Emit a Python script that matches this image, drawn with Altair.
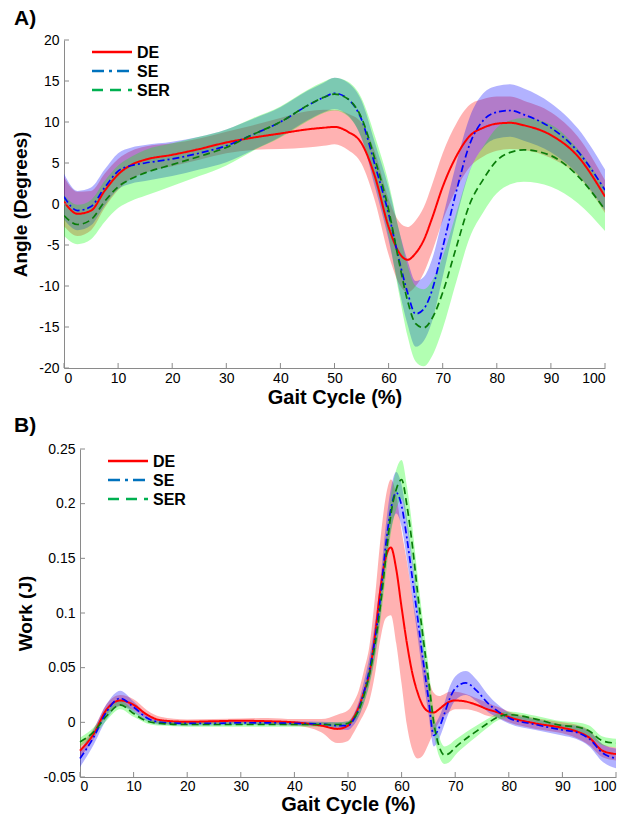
import altair as alt
import pandas as pd

# ---------------- Panel A: joint angle ----------------
GAIT_A = [0, 2.5, 5, 7.5, 10, 12.5, 15, 20, 25, 30, 35, 40, 45, 48, 50, 52.5, 55, 57.5, 60, 62,
          63.5, 65, 66.5, 68, 70, 72.5, 75, 77.5, 80, 82.5, 85, 90, 95, 100]
DE_A_MEAN = [0.3, -1.2, -0.8, 1.6, 3.6, 4.8, 5.4, 6.0, 6.7, 7.5, 8.1, 8.6, 9.1, 9.3, 9.4, 8.8, 7.4, 3.3, -2.8, -6.0,
             -6.8, -6.0, -4.4, -1.8, 2.1, 5.8, 8.3, 9.3, 9.8, 9.9, 9.6, 8.4, 5.8, 0.9]
DE_A_SD = [3.0, 2.7, 2.4, 2.1, 1.9, 1.7, 1.6, 1.4, 1.3, 1.3, 1.5, 1.9, 2.2, 2.2, 2.1, 2.2, 2.5, 3.0, 3.4, 3.8,
           4.0, 4.0, 4.0, 4.1, 4.1, 4.0, 3.8, 3.5, 3.3, 3.2, 3.0, 2.8, 2.4, 2.0]
SE_A_MEAN = [0.9, -0.8, -0.3, 2.0, 4.0, 4.7, 5.0, 5.5, 6.2, 7.1, 8.5, 10.0, 12.0, 13.0, 13.5, 12.8, 10.3, 4.7, -1.2, -7.0,
             -10.8, -13.4, -12.8, -10.6, -5.3, 1.5, 7.3, 10.2, 11.2, 11.4, 10.9, 9.3, 6.4, 1.7]
SE_A_SD = [2.8, 2.4, 2.3, 2.2, 2.2, 2.2, 2.2, 2.1, 2.0, 2.0, 1.9, 1.8, 1.8, 1.8, 1.9, 2.0, 2.3, 2.7, 3.2, 3.6,
           3.9, 4.0, 3.9, 3.8, 3.6, 3.4, 3.3, 3.3, 3.2, 3.2, 3.2, 3.0, 2.8, 2.5]
SER_A_MEAN = [-1.4, -2.5, -1.9, 0.3, 2.1, 3.1, 3.8, 4.8, 5.8, 6.9, 8.5, 10.0, 12.0, 13.0, 13.4, 12.8, 10.5, 5.4, -0.7, -7.3,
              -11.8, -14.6, -15.1, -14.0, -10.8, -5.3, 0.0, 3.0, 5.3, 6.3, 6.6, 5.9, 3.4, -0.7]
SER_A_SD = [2.5, 2.4, 2.4, 2.5, 2.6, 2.7, 2.8, 2.6, 2.4, 2.2, 2.0, 1.9, 1.9, 1.9, 2.0, 2.1, 2.4, 2.8, 3.3, 3.9,
            4.3, 4.6, 4.7, 4.6, 4.4, 4.2, 4.1, 4.0, 4.0, 3.9, 3.9, 3.8, 3.3, 2.6]

# ---------------- Panel B: work ----------------
GAIT_B = [0, 2.5, 5, 7.5, 10, 12.5, 15, 20, 25, 30, 35, 40, 45, 48, 50, 51, 52, 53, 54, 55,
          56, 57, 58, 59, 60, 61, 62, 63, 64, 65, 66, 67, 68, 69, 70, 72, 74, 76, 78, 80,
          85, 90, 92.5, 95, 97.5, 100]
DE_B_MEAN = [-0.026, -0.011, 0.012, 0.020, 0.016, 0.007, 0.002, 0.0005, 0.001, 0.0015,
             0.001, 0.0, -0.003, -0.006, -0.003, 0.004, 0.014, 0.028, 0.045, 0.078,
             0.120, 0.150, 0.160, 0.140, 0.105, 0.072, 0.045, 0.027, 0.015, 0.010,
             0.009, 0.012, 0.016, 0.019, 0.020, 0.019, 0.016, 0.012, 0.009, 0.005,
             -0.001, -0.005, -0.008, -0.014, -0.026, -0.029]
DE_B_SD = [0.006, 0.005, 0.005, 0.005, 0.005, 0.004, 0.003, 0.002, 0.002, 0.002,
           0.003, 0.003, 0.006, 0.013, 0.014, 0.014, 0.015, 0.020, 0.025, 0.035,
           0.045, 0.055, 0.062, 0.068, 0.070, 0.075, 0.070, 0.060, 0.045, 0.030,
           0.018, 0.012, 0.010, 0.009, 0.008, 0.007, 0.006, 0.006, 0.005, 0.005,
           0.005, 0.005, 0.006, 0.007, 0.006, 0.006]
SE_B_MEAN = [-0.033, -0.014, 0.010, 0.022, 0.014, 0.004, 0.0, -0.001, -0.001, -0.0005,
             -0.0005, -0.001, -0.0015, -0.003, -0.003, 0.002, 0.012, 0.028, 0.048, 0.075,
             0.112, 0.160, 0.195, 0.210, 0.198, 0.168, 0.132, 0.095, 0.057, 0.022,
             -0.012, -0.005, 0.008, 0.022, 0.031, 0.036, 0.029, 0.018, 0.010, 0.004,
             -0.002, -0.007, -0.009, -0.015, -0.028, -0.033]
SE_B_SD = [0.008, 0.007, 0.007, 0.007, 0.005, 0.003, 0.002, 0.002, 0.002, 0.002,
           0.002, 0.002, 0.002, 0.003, 0.004, 0.005, 0.007, 0.010, 0.012, 0.015,
           0.017, 0.018, 0.019, 0.019, 0.019, 0.019, 0.018, 0.017, 0.016, 0.014,
           0.010, 0.010, 0.010, 0.011, 0.011, 0.011, 0.010, 0.008, 0.006, 0.005,
           0.005, 0.005, 0.006, 0.007, 0.008, 0.009]
SER_B_MEAN = [-0.018, -0.009, 0.006, 0.016, 0.008, 0.001, -0.001, -0.002, -0.002, -0.002,
              -0.002, -0.002, -0.002, -0.002, -0.001, 0.003, 0.011, 0.025, 0.044, 0.070,
              0.105, 0.148, 0.190, 0.213, 0.222, 0.198, 0.162, 0.118, 0.078, 0.040,
              0.000, -0.022, -0.030, -0.028, -0.023, -0.015, -0.008, -0.001, 0.005, 0.007,
              0.003, -0.003, -0.004, -0.008, -0.017, -0.019]
SER_B_SD = [0.004, 0.004, 0.004, 0.004, 0.003, 0.002, 0.002, 0.002, 0.002, 0.002,
            0.002, 0.002, 0.002, 0.002, 0.002, 0.003, 0.005, 0.007, 0.010, 0.012,
            0.014, 0.016, 0.017, 0.018, 0.018, 0.018, 0.017, 0.016, 0.014, 0.012,
            0.010, 0.009, 0.008, 0.008, 0.007, 0.006, 0.005, 0.004, 0.003, 0.003,
            0.003, 0.004, 0.004, 0.005, 0.004, 0.004]

X_TICKS = [0, 10, 20, 30, 40, 50, 60, 70, 80, 90, 100]
Y_TICKS_A = [-20, -15, -10, -5, 0, 5, 10, 15, 20]
Y_TICKS_B = [-0.05, 0, 0.05, 0.1, 0.15, 0.2, 0.25]

SERIES = ["DE", "SE", "SER"]
BAND_COLORS = ["#ff0000", "#0000ff", "#00ff00"]
LINE_COLORS = ["#ff0000", "#0000ff", "#0a7d0a"]
LINE_DASHES = [[1, 0], [7, 3, 2, 3], [7, 4]]
LINE_WIDTHS = [2.0, 1.7, 1.7]
LEGEND_COLORS = ["#ff0000", "#0072bd", "#00b050"]
LEGEND_DASHES = [[1, 0], [12, 5, 3, 5], [11, 7]]

FONT = "Liberation Sans"
AXIS_GRAY = "#8a8a8a"
LABEL_EXPR = "replace(format(datum.value, '~g'), '\u2212', '-')"


def panel(xs, means, sds, ydom, yticks, ytitle, w, h, label, label_y, shift,
          x_label_pad, x_title_pad):
    # shift: extra left indent of this panel's plot area (pixels)
    xscale = alt.Scale(domain=[0, 100], nice=False, zero=False, range=[shift, w + shift])
    yscale = alt.Scale(domain=ydom, nice=False, zero=False)
    xaxis = alt.Axis(values=X_TICKS, title="Gait Cycle (%)", ticks=False, grid=False,
                     labelExpr=LABEL_EXPR, labelPadding=x_label_pad, titlePadding=x_title_pad,
                     titleFontSize=20)
    yaxis = alt.Axis(values=yticks, title=ytitle, ticks=False, grid=False, offset=-shift,
                     labelExpr=LABEL_EXPR, labelPadding=5, titlePadding=8)
    layers = []
    for i, name in enumerate(SERIES):
        df = pd.DataFrame({"x": xs,
                           "lo": [m - s for m, s in zip(means[i], sds[i])],
                           "hi": [m + s for m, s in zip(means[i], sds[i])]})
        layers.append(alt.Chart(df).mark_area(color=BAND_COLORS[i], opacity=0.3,
                                              interpolate="monotone", clip=True).encode(
            x=alt.X("x:Q", scale=xscale, axis=xaxis),
            y=alt.Y("lo:Q", scale=yscale, axis=yaxis),
            y2="hi:Q"))
    for i, name in enumerate(SERIES):
        df = pd.DataFrame({"x": xs, "m": means[i]})
        layers.append(alt.Chart(df).mark_line(color=LINE_COLORS[i], strokeWidth=LINE_WIDTHS[i],
                                              strokeDash=LINE_DASHES[i], interpolate="monotone",
                                              clip=True).encode(
            x=alt.X("x:Q", scale=xscale, axis=xaxis),
            y=alt.Y("m:Q", scale=yscale, axis=yaxis)))
    # inward tick marks
    layers.append(alt.Chart(pd.DataFrame({"t": X_TICKS})).mark_rule(color=AXIS_GRAY).encode(
        x=alt.X("t:Q", scale=xscale, axis=xaxis), y=alt.value(h), y2=alt.value(h - 5)))
    layers.append(alt.Chart(pd.DataFrame({"t": yticks})).mark_rule(color=AXIS_GRAY).encode(
        y=alt.Y("t:Q", scale=yscale, axis=yaxis), x=alt.value(shift), x2=alt.value(shift + 5)))
    # legend
    for i, name in enumerate(SERIES):
        ly = 12 + 19 * i
        ldf = pd.DataFrame({"label": [name]})
        layers.append(alt.Chart(ldf).mark_rule(color=LEGEND_COLORS[i], strokeWidth=2.5,
                                               strokeDash=LEGEND_DASHES[i]).encode(
            x=alt.value(shift + 28), x2=alt.value(shift + 68), y=alt.value(ly)))
        layers.append(alt.Chart(ldf).mark_text(align="left", baseline="middle", font=FONT,
                                               fontSize=16, fontWeight="bold", color="black",
                                               dy=1).encode(
            x=alt.value(shift + 73), y=alt.value(ly), text="label:N"))
    # panel label
    layers.append(alt.Chart(pd.DataFrame({"label": [label]})).mark_text(
        align="left", baseline="alphabetic", font=FONT, fontSize=21, fontWeight="bold",
        color="black").encode(x=alt.value(-50), y=alt.value(label_y), text="label:N"))
    return alt.layer(*layers).properties(width=w + shift, height=h)


pA = panel(GAIT_A, [DE_A_MEAN, SE_A_MEAN, SER_A_MEAN], [DE_A_SD, SE_A_SD, SER_A_SD],
           [-20, 20], Y_TICKS_A, "Angle (Degrees)", 541, 328, "A)", -15, 0, 3, 2)
pB = panel(GAIT_B, [DE_B_MEAN, SE_B_MEAN, SER_B_MEAN], [DE_B_SD, SE_B_SD, SER_B_SD],
           [-0.05, 0.25], Y_TICKS_B, "Work (J)", 536, 328, "B)", -17, 16, 2, 1)

chart = alt.vconcat(pA, pB, spacing=8).properties(
    padding={"left": 3, "top": 0, "right": 0, "bottom": 0}
).configure_view(stroke=None).configure_axis(
    domainColor=AXIS_GRAY, domainWidth=1,
    labelFont=FONT, labelFontSize=14, labelColor="black",
    titleFont=FONT, titleFontSize=19, titleFontWeight="bold", titleColor="black"
)

chart.save("out.html", embed_options={"renderer": "svg", "actions": False})
